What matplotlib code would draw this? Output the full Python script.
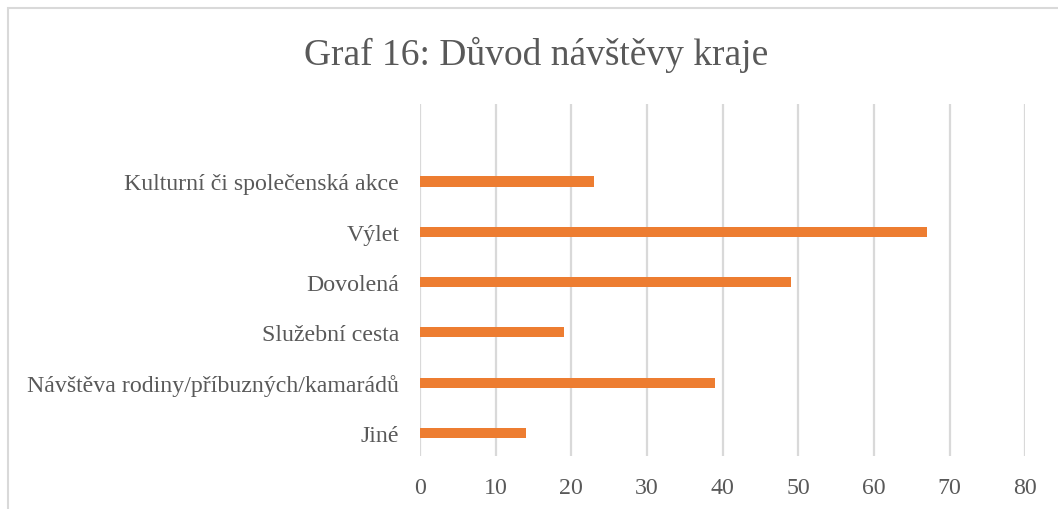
import matplotlib
matplotlib.use("Agg")
import matplotlib.pyplot as plt
from matplotlib.patches import Rectangle

# data (bottom to top)
categories = ["Jiné", "Návštěva rodiny/příbuzných/kamarádů", "Služební cesta",
              "Dovolená", "Výlet", "Kulturní či společenská akce"]
counts = [14, 39, 19, 49, 67, 23]
ticks = [0, 10, 20, 30, 40, 50, 60, 70, 80]

plt.rcParams['font.family'] = ['Liberation Serif', 'DejaVu Serif']
text_color = "#595959"

fig = plt.figure(figsize=(10.58, 5.10), dpi=100)
ax = fig.add_axes([0.397, 0.104, 0.572, 0.690])

positions = list(range(len(categories)))
ax.barh(positions, counts, height=0.2, color="#ED7D31", zorder=3)

ax.set_xlim(0, 80)
ax.set_ylim(-0.46, 6.54)
ax.set_xticks(ticks)
ax.set_xticklabels([str(t) for t in ticks])
ax.set_yticks(positions)
ax.set_yticklabels(categories)
ax.tick_params(axis="both", length=0, labelsize=17.2, colors=text_color)
ax.tick_params(axis="x", pad=15)
ax.tick_params(axis="y", pad=15)

ax.grid(axis="x", color="#d9d9d9", linewidth=1.6, zorder=0)
for side in ax.spines.values():
    side.set_visible(False)

fig.text(0.507, 0.893, "Graf 16: Důvod návštěvy kraje", ha="center", va="center",
         fontsize=27, color=text_color)

# light chart border, cut off at right and bottom like the reference
fig.add_artist(Rectangle((0.008, -0.5), 2.0, 1.482, transform=fig.transFigure,
                         fill=False, edgecolor="#d9d9d9", linewidth=1.5))

fig.savefig("out.png", dpi=100)
